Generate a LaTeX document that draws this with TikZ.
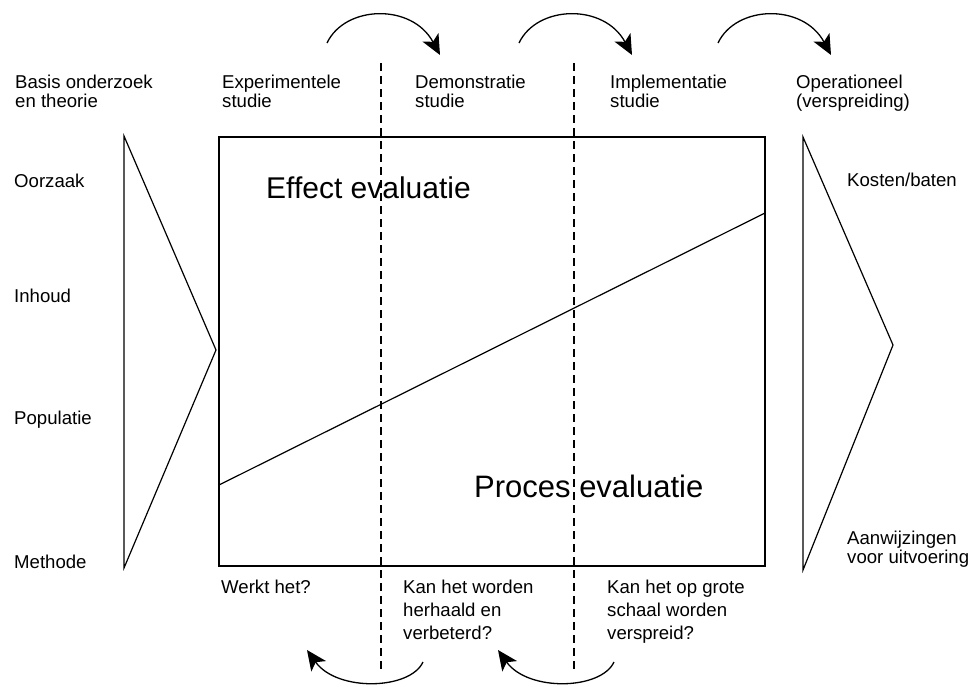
\documentclass[tikz,border=0pt]{standalone}
\usepackage{fontspec}
\setmainfont{Liberation Sans}
\usetikzlibrary{arrows.meta}
\begin{document}
\begin{tikzpicture}[x=1pt,y=-1pt,
  line/.style={line width=1.2pt, draw=black},
  lbl/.style={anchor=base west, inner sep=0pt, font=\fontsize{18.6}{20}\selectfont},
  big/.style={anchor=base west, inner sep=0pt, font=\fontsize{30}{32}\selectfont},
  dashline/.style={line width=1.1pt, dash pattern=on 8pt off 5pt},
  flow/.style={line width=1.3pt, -{Stealth[length=20pt,width=18pt,inset=5pt]}}]
\useasboundingbox (0,0) rectangle (978,686);

% main box, triangles, diagonal
\draw[line] (219,137) rectangle (765,566);
\draw[line] (219,485) -- (765,213);
\draw[line, line join=miter] (124,136) -- (216,350) -- (124,568) -- cycle;
\draw[line, line join=miter] (803,137) -- (893,345) -- (803,570) -- cycle;

% dashed separators
\draw[dashline] (381,63) -- (381,672);
\draw[dashline] (574,63) -- (574,672);

% top labels
\node[lbl] (basisA) at (15,88) {Basis onderzoek};
\node[lbl] (basisB) at (15,107) {en theorie};
\node[lbl] (expA) at (222,88) {Experimentele};
\node[lbl] (expB) at (222,107) {studie};
\node[lbl] (demA) at (415,88) {Demonstratie};
\node[lbl] (demB) at (415,107) {studie};
\node[lbl] (impA) at (610,88) {Implementatie};
\node[lbl] (impB) at (610,107) {studie};
\node[lbl] (opA) at (796,88) {Operationeel};
\node[lbl] (opB) at (796,107) {(verspreiding)};

% left labels
\node[lbl] (oorzaak) at (14,187) {Oorzaak};
\node[lbl] (inhoud) at (14,302) {Inhoud};
\node[lbl] (populatie) at (14,424) {Populatie};
\node[lbl] (methode) at (14,568) {Methode};

% right labels
\node[lbl] (kosten) at (847,186) {Kosten/baten};
\node[lbl] (aanwA) at (847,544) {Aanwijzingen};
\node[lbl] (aanwB) at (847,563) {voor uitvoering};

% big labels
\node[big] (effect) at (266,198) {Effect evaluatie};
\node[big, font=\fontsize{31}{33}\selectfont] (proces) at (474,497) {Proces evaluatie};

% bottom labels
\node[lbl] (werkt) at (221,593) {Werkt het?};
\node[lbl] (kanA) at (403,593) {Kan het worden};
\node[lbl] (kanB) at (403,616) {herhaald en};
\node[lbl] (kanC) at (403,639) {verbeterd?};
\node[lbl] (grA) at (607,593) {Kan het op grote};
\node[lbl] (grB) at (607,616) {schaal worden};
\node[lbl] (grC) at (607,639) {verspreid?};

% top arrows
\coordinate (t1s) at (327,43); \coordinate (t1e) at (440,55);
\coordinate (t2s) at (519,43); \coordinate (t2e) at (632,55);
\coordinate (t3s) at (718,43); \coordinate (t3e) at (831,55);
\draw[flow] (t1s) .. controls +(18,-38) and +(-28,-52) .. (t1e);
\draw[flow] (t2s) .. controls +(18,-38) and +(-28,-52) .. (t2e);
\draw[flow] (t3s) .. controls +(18,-38) and +(-28,-52) .. (t3e);

% bottom arrows
\coordinate (b1s) at (423,662); \coordinate (b1e) at (307,650);
\coordinate (b2s) at (614,662); \coordinate (b2e) at (498,650);
\draw[flow] (b1s) .. controls +(-13,28) and +(30,42) .. (b1e);
\draw[flow] (b2s) .. controls +(-13,28) and +(30,42) .. (b2e);
\end{tikzpicture}
\end{document}
